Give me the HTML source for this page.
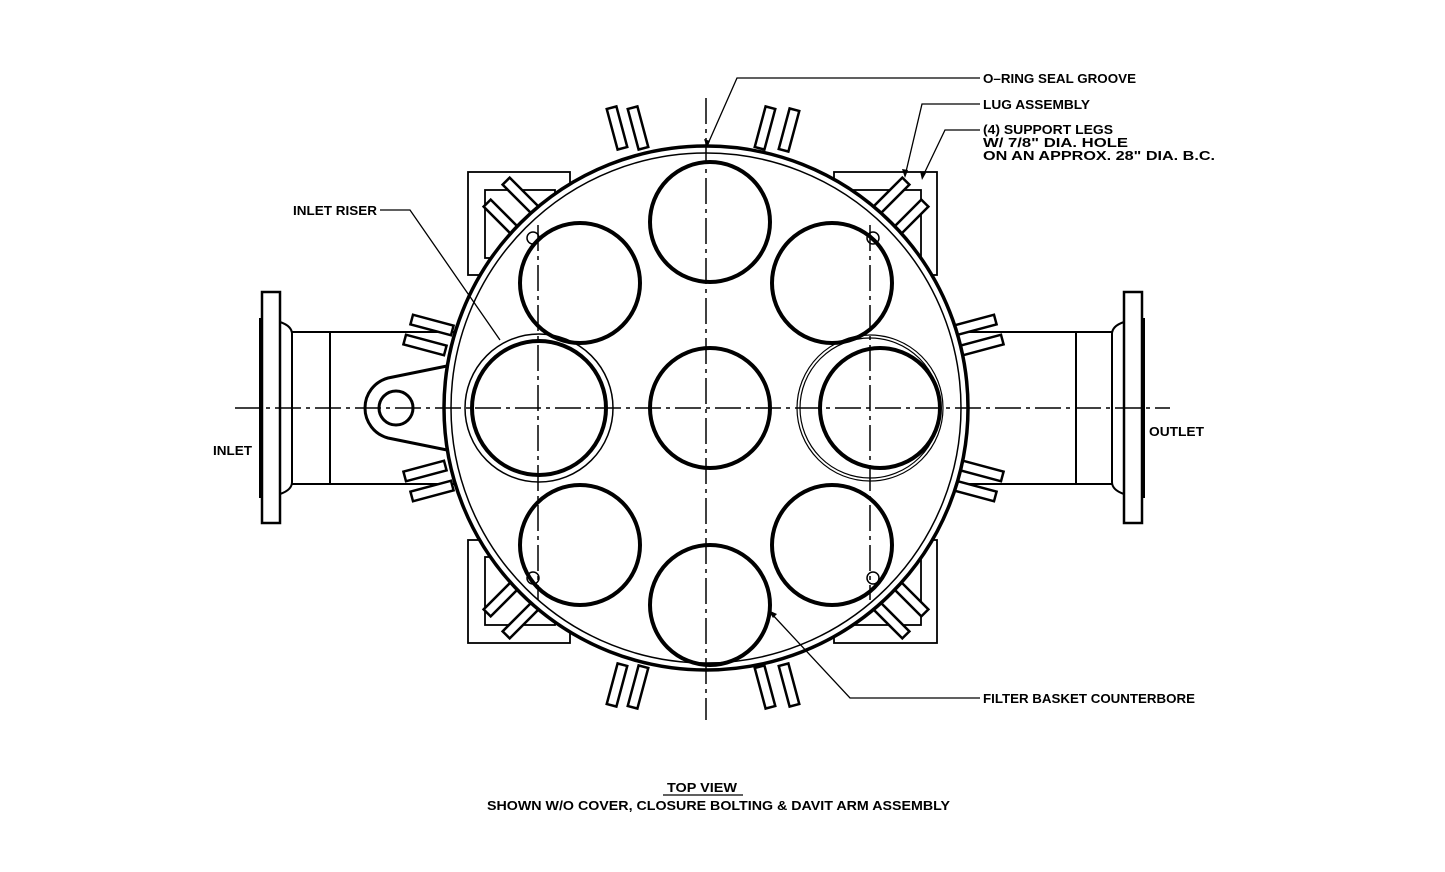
<!DOCTYPE html>
<html><head><style>html,body{margin:0;padding:0;background:#fff}svg{display:block}text{font-family:"Liberation Sans",sans-serif;font-weight:bold;font-size:12.5px;fill:#000}</style></head><body>
<svg width="1445" height="872" viewBox="0 0 1445 872" xmlns="http://www.w3.org/2000/svg">
<defs><g id="fin"><rect x="-21" y="-5" width="42" height="10" fill="#fff" stroke="#000" stroke-width="2.5"/></g></defs>
<g fill="none" stroke="#000">
<g stroke-width="2">
<line x1="292" y1="332" x2="460" y2="332"/><line x1="292" y1="484" x2="460" y2="484"/>
<line x1="955" y1="332" x2="1112" y2="332"/><line x1="955" y1="484" x2="1112" y2="484"/>
<line x1="330" y1="332" x2="330" y2="484"/><line x1="1076" y1="332" x2="1076" y2="484"/>
<rect x="262" y="292" width="18" height="231" stroke-width="2.5"/>
<rect x="1124" y="292" width="18" height="231" stroke-width="2.5"/>
<path d="M280 322 Q292 326 292 334 V482 Q292 490 280 494"/>
<path d="M1124 322 Q1112 326 1112 334 V482 Q1112 490 1124 494"/>
<line x1="260" y1="318" x2="260" y2="498"/><line x1="1144" y1="318" x2="1144" y2="498"/>
</g>
<path d="M447 366 L388 378 A31 31 0 0 0 365 408 A31 31 0 0 0 388 438 L447 450" stroke-width="3"/>
<circle cx="396" cy="408" r="17" stroke-width="3"/>
<g stroke-width="1.8">
<rect x="468" y="172" width="102" height="103"/><rect x="834" y="172" width="103" height="103"/>
<rect x="468" y="540" width="102" height="103"/><rect x="834" y="540" width="103" height="103"/>
<rect x="485" y="190" width="70" height="68"/><rect x="851" y="190" width="70" height="68"/>
<rect x="485" y="557" width="70" height="68"/><rect x="851" y="557" width="70" height="68"/>
</g>
</g>
<use href="#fin" transform="translate(617,128) rotate(75)"/>
<use href="#fin" transform="translate(638,128) rotate(75)"/>
<use href="#fin" transform="translate(765,128) rotate(105)"/>
<use href="#fin" transform="translate(789,130) rotate(105)"/>
<use href="#fin" transform="translate(617,685) rotate(105)"/>
<use href="#fin" transform="translate(638,687) rotate(105)"/>
<use href="#fin" transform="translate(765,687) rotate(75)"/>
<use href="#fin" transform="translate(789,685) rotate(75)"/>
<use href="#fin" transform="translate(432,325) rotate(15)"/>
<use href="#fin" transform="translate(425,345) rotate(15)"/>
<use href="#fin" transform="translate(425,471) rotate(-15)"/>
<use href="#fin" transform="translate(432,491) rotate(-15)"/>
<use href="#fin" transform="translate(975,325) rotate(-15)"/>
<use href="#fin" transform="translate(982,345) rotate(-15)"/>
<use href="#fin" transform="translate(982,471) rotate(15)"/>
<use href="#fin" transform="translate(975,491) rotate(15)"/>
<use href="#fin" transform="translate(891,196) rotate(-45)"/>
<use href="#fin" transform="translate(910,218) rotate(-45)"/>
<use href="#fin" transform="translate(521,196) rotate(45)"/>
<use href="#fin" transform="translate(502,218) rotate(45)"/>
<use href="#fin" transform="translate(891,620) rotate(45)"/>
<use href="#fin" transform="translate(910,598) rotate(45)"/>
<use href="#fin" transform="translate(521,620) rotate(-45)"/>
<use href="#fin" transform="translate(502,598) rotate(-45)"/>
<g fill="none" stroke="#000">
<circle cx="706" cy="408" r="262" stroke-width="3.5" fill="#fff"/>
<circle cx="706" cy="408" r="255" stroke-width="1.5"/>
<g stroke-width="4">
<circle cx="710" cy="222" r="60"/><circle cx="580" cy="283" r="60"/><circle cx="832" cy="283" r="60"/>
<circle cx="710" cy="408" r="60"/><circle cx="539" cy="408" r="67"/><circle cx="880" cy="408" r="60"/>
<circle cx="580" cy="545" r="60"/><circle cx="710" cy="605" r="60"/><circle cx="832" cy="545" r="60"/>
</g>
<circle cx="539" cy="408" r="74" stroke-width="1.5"/>
<circle cx="870" cy="408" r="73" stroke-width="1.2"/><circle cx="870" cy="408" r="70" stroke-width="1.2"/>
<g stroke-width="1.5"><circle cx="533" cy="238" r="6"/><circle cx="873" cy="238" r="6"/><circle cx="533" cy="578" r="6"/><circle cx="873" cy="578" r="6"/></g>
<g stroke-width="1.5" stroke-dasharray="26 5 4 5">
<line x1="235" y1="408" x2="1170" y2="408"/><line x1="706" y1="98" x2="706" y2="720"/>
<line x1="538" y1="225" x2="538" y2="600"/><line x1="870" y1="225" x2="870" y2="600"/>
</g>
<g stroke-width="1.3">
<polyline points="980,78 737,78 707,146"/>
<polyline points="980,104 922,104 905,176"/>
<polyline points="980,130 945,130 922,178"/>
<polyline points="380,210 410,210 500,340"/>
<polyline points="980,698 850,698 770,612"/>
</g>
</g>
<g fill="#000"><path d="M707 148 l-3 -9 l6 2z"/><path d="M905 178 l-3 -9 l6 1z"/><path d="M922 180 l-2 -9 l6 2z"/><path d="M768 610 l9 4 l-4 4z"/></g>
<text x="983" y="83" textLength="153" lengthAdjust="spacingAndGlyphs">O–RING SEAL GROOVE</text>
<text x="983" y="109" textLength="107" lengthAdjust="spacingAndGlyphs">LUG ASSEMBLY</text>
<text x="983" y="134" textLength="130" lengthAdjust="spacingAndGlyphs">(4) SUPPORT LEGS</text>
<text x="983" y="147" textLength="145" lengthAdjust="spacingAndGlyphs">W/ 7/8" DIA. HOLE</text>
<text x="983" y="160" textLength="232" lengthAdjust="spacingAndGlyphs">ON AN APPROX. 28" DIA. B.C.</text>
<text x="293" y="215" textLength="84" lengthAdjust="spacingAndGlyphs">INLET RISER</text>
<text x="213" y="455" textLength="39" lengthAdjust="spacingAndGlyphs">INLET</text>
<text x="1149" y="436" textLength="55" lengthAdjust="spacingAndGlyphs">OUTLET</text>
<text x="983" y="703" textLength="212" lengthAdjust="spacingAndGlyphs">FILTER BASKET COUNTERBORE</text>
<text x="667" y="792" textLength="70" lengthAdjust="spacingAndGlyphs">TOP VIEW</text>
<line x1="663" y1="795" x2="743" y2="795" stroke="#000" stroke-width="1.3"/>
<text x="487" y="810" textLength="463" lengthAdjust="spacingAndGlyphs">SHOWN W/O COVER, CLOSURE BOLTING &amp; DAVIT ARM ASSEMBLY</text>
</svg>
</body></html>
